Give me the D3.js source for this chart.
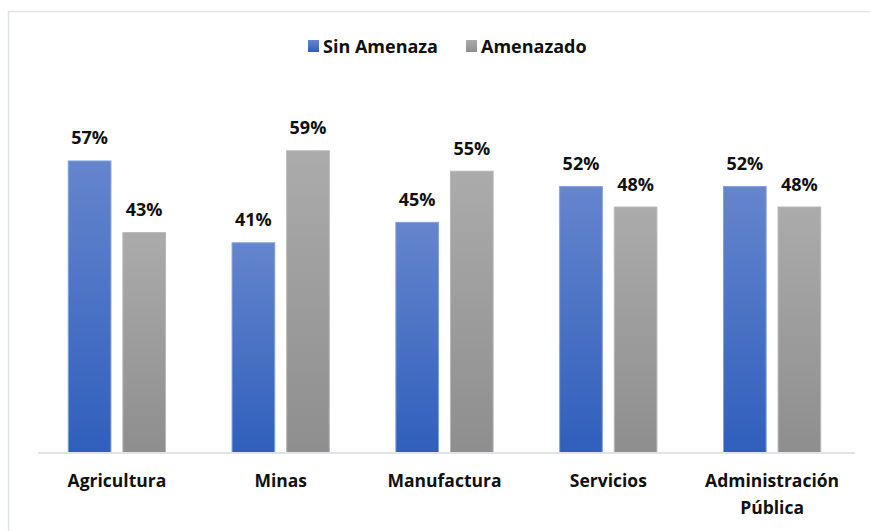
<!DOCTYPE html>
<html>

<head>
    <meta charset="utf-8">
    <style>
        body {
            margin: 0;
            background: #fff;
            font-family: "Open Sans", Lato, sans-serif;
        }

        svg {
            display: block;
        }

        .value-label {
            font-size: 18px;
            font-weight: 700;
            fill: #111;
        }

        .x .tick text {
            font-family: "Open Sans", Lato, sans-serif;
            font-size: 17.5px;
            font-weight: 700;
            fill: #111;
        }

        .x .tick line {
            display: none;
        }

        .legend text {
            font-size: 18px;
            font-weight: 700;
            fill: #111;
        }
    </style>
</head>

<body>
    <svg width="870" height="531"></svg>
</body>

<script src="https://d3js.org/d3.v7.min.js"></script>

<script>
    // data
    let categories = ["Agricultura", "Minas", "Manufactura", "Servicios", "Administración Pública"]
    let seriesNames = ["Sin Amenaza", "Amenazado"]
    let sinAmenaza = [57, 41, 45, 52, 52]
    let amenazado = [43, 59, 55, 48, 48]

    let width = 870;
    let height = 531;
    let margin = { top: 94, right: 16, bottom: 79, left: 35 };

    let svg = d3.select("svg")

    // light chart frame (only top and left edges show in the original)
    svg.append("path")
        .attr("d", `M8.5,${height} V11.5 H${width}`)
        .attr("fill", "none")
        .attr("stroke", "#dfe3ea")
        .attr("stroke-width", 1.5)

    let defs = svg.append("defs")

    let gradColors = [
        ["#6585cd", "#2f5fbc"], // Sin Amenaza
        ["#ababab", "#8e8e8e"]  // Amenazado
    ]
    gradColors.forEach((c, i) => {
        let g = defs.append("linearGradient")
            .attr("id", "grad" + i)
            .attr("x1", 0).attr("y1", 0)
            .attr("x2", 0).attr("y2", 1)
        g.append("stop").attr("offset", "0%").attr("stop-color", c[0])
        g.append("stop").attr("offset", "100%").attr("stop-color", c[1])
    })
    let strokes = ["#7fa0e0", "#b8b8b8"]

    let data = categories.map((c, i) => ({
        cat: c,
        values: [sinAmenaza[i], amenazado[i]]
    }))

    let x0 = d3.scaleBand()
        .domain(categories)
        .range([margin.left, width - margin.right])
        .paddingInner(0)
        .paddingOuter(0)

    let x1 = d3.scaleBand()
        .domain([0, 1])
        .range([0, x0.bandwidth()])
        .paddingInner(0.2)
        .paddingOuter(0.6)

    let y = d3.scaleLinear()
        .domain([0, 70])
        .range([height - margin.bottom, margin.top])

    // bars
    let groups = svg.append("g")
        .selectAll("g")
        .data(data)
        .join("g")
        .attr("transform", d => `translate(${x0(d.cat)},0)`)

    groups.selectAll("rect")
        .data(d => d.values.map((v, i) => ({ v: v, i: i })))
        .join("rect")
        .attr("x", d => x1(d.i) + 0.5)
        .attr("width", x1.bandwidth() - 1)
        .attr("y", d => y(d.v) + 0.5)
        .attr("height", d => y(0) - y(d.v))
        .attr("fill", d => `url(#grad${d.i})`)
        .attr("stroke", d => strokes[d.i])
        .attr("stroke-width", 1)

    groups.selectAll("text")
        .data(d => d.values.map((v, i) => ({ v: v, i: i })))
        .join("text")
        .attr("class", "value-label")
        .attr("x", d => x1(d.i) + x1.bandwidth() / 2)
        .attr("y", d => y(d.v) - 16)
        .attr("text-anchor", "middle")
        .text(d => d.v + "%")

    // baseline
    svg.append("line")
        .attr("x1", 38)
        .attr("x2", 855)
        .attr("y1", y(0) + 1)
        .attr("y2", y(0) + 1)
        .attr("stroke", "#dfe3ea")
        .attr("stroke-width", 2)

    // category axis
    let xAxis = svg.append("g")
        .attr("class", "x axis")
        .attr("transform", `translate(0,${y(0)})`)
        .call(d3.axisBottom(x0).tickSize(0).tickPadding(0))
        .call(g => g.select(".domain").remove())

    xAxis.selectAll(".tick text")
        .each(function (d) {
            let t = d3.select(this)
            let words = d.split(" ")
            t.text(null).attr("y", 0).attr("dy", null)
            words.forEach((w, i) => {
                t.append("tspan")
                    .attr("x", 0)
                    .attr("y", 35 + i * 27)
                    .text(w)
            })
        })

    // legend
    let legend = svg.append("g").attr("class", "legend")
    let legendX = [308, 466]
    seriesNames.forEach((name, i) => {
        legend.append("rect")
            .attr("x", legendX[i])
            .attr("y", 40)
            .attr("width", 11)
            .attr("height", 12)
            .attr("fill", `url(#grad${i})`)
        legend.append("text")
            .attr("x", legendX[i] + 15)
            .attr("y", 53)
            .text(name)
    })
</script>

</html>
